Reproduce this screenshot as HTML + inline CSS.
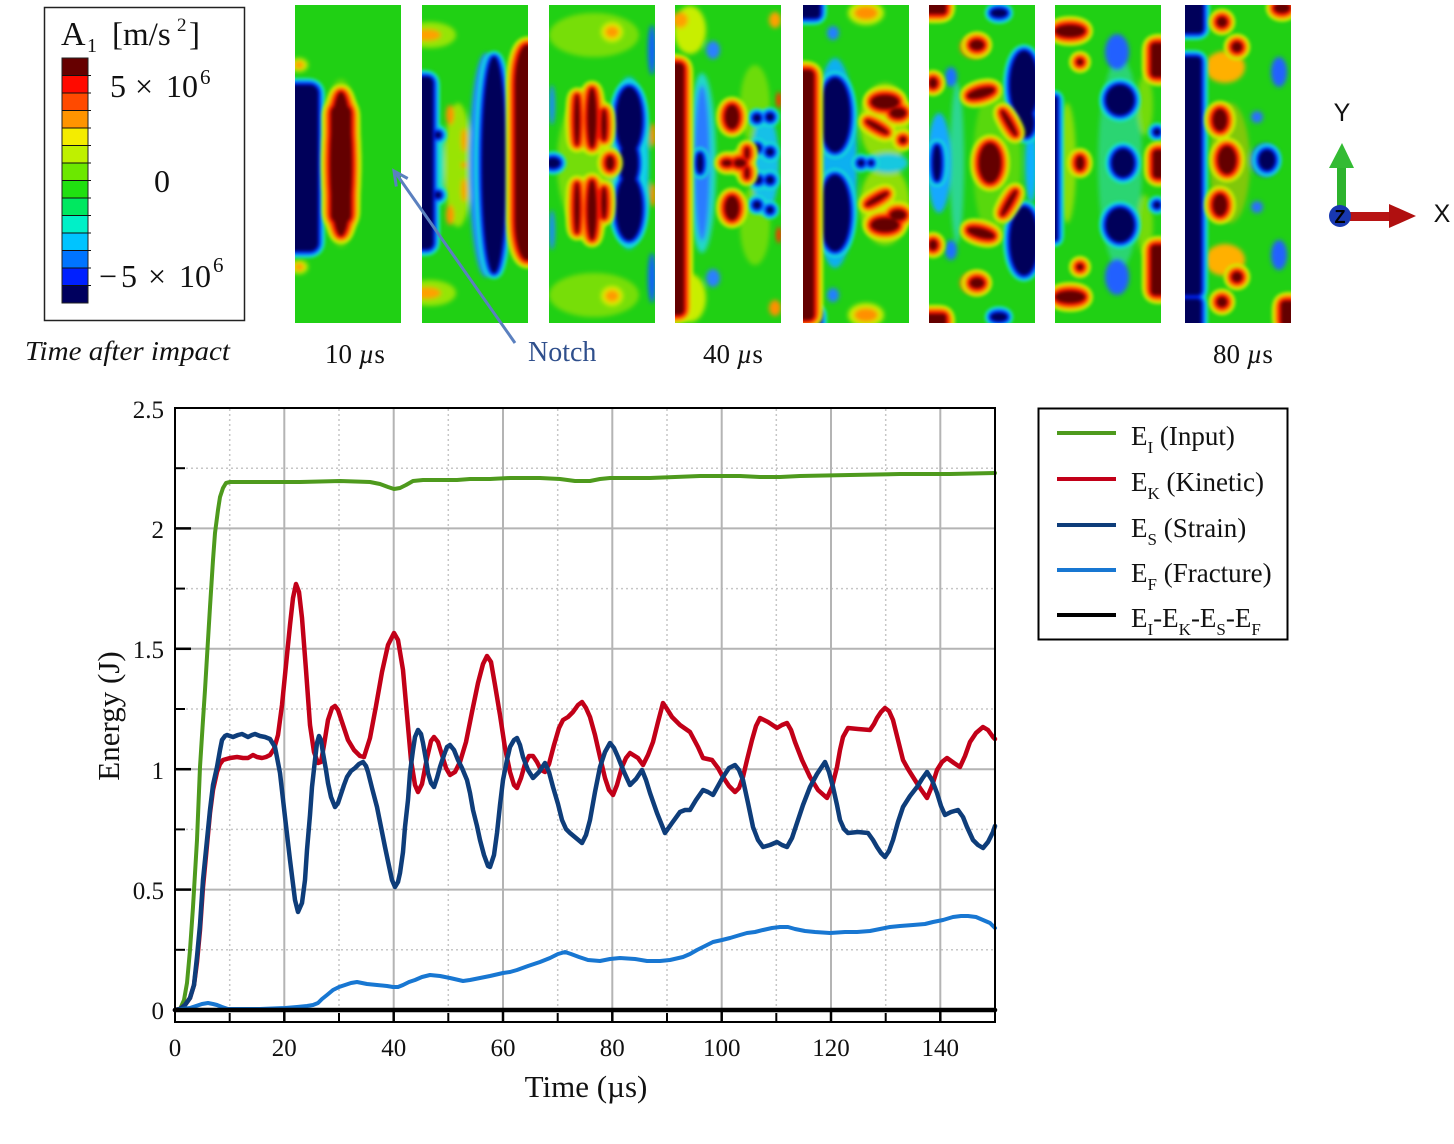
<!DOCTYPE html>
<html><head><meta charset="utf-8"><style>
html,body{margin:0;padding:0;background:#fff;}
svg{display:block;}
</style></head><body>
<svg width="1454" height="1144" viewBox="0 0 1454 1144" xmlns="http://www.w3.org/2000/svg" font-family="'Liberation Serif', serif">
<defs>
<clipPath id="cp"><rect x="0" y="0" width="106" height="318"/></clipPath>
<filter id="hot" filterUnits="userSpaceOnUse" x="-30" y="-30" width="170" height="380" color-interpolation-filters="sRGB">
 <feGaussianBlur in="SourceAlpha" stdDeviation="2" result="b1"/>
 <feComponentTransfer in="b1" result="a1"><feFuncA type="linear" slope="20" intercept="-1"/></feComponentTransfer>
 <feGaussianBlur in="a1" stdDeviation="2" result="b2"/>
 <feComponentTransfer in="b2" result="a2"><feFuncA type="linear" slope="20" intercept="-1"/></feComponentTransfer>
 <feGaussianBlur in="a2" stdDeviation="2" result="b3"/>
 <feComponentTransfer in="b3" result="a3"><feFuncA type="linear" slope="20" intercept="-1"/></feComponentTransfer>
 <feFlood flood-color="#cfee00" result="f3"/><feComposite in="f3" in2="a3" operator="in" result="c3"/>
 <feFlood flood-color="#ff9400" result="f2"/><feComposite in="f2" in2="a2" operator="in" result="c2"/>
 <feFlood flood-color="#f41400" result="f1"/><feComposite in="f1" in2="a1" operator="in" result="c1"/>
 <feFlood flood-color="#640000" result="f0"/><feComposite in="f0" in2="SourceAlpha" operator="in" result="c0"/>
 <feMerge result="m"><feMergeNode in="c3"/><feMergeNode in="c2"/><feMergeNode in="c1"/><feMergeNode in="c0"/></feMerge>
 <feGaussianBlur in="m" stdDeviation="1.5"/>
</filter>
<filter id="cold" filterUnits="userSpaceOnUse" x="-30" y="-30" width="170" height="380" color-interpolation-filters="sRGB">
 <feGaussianBlur in="SourceAlpha" stdDeviation="1.6" result="b1"/>
 <feComponentTransfer in="b1" result="a1"><feFuncA type="linear" slope="20" intercept="-1"/></feComponentTransfer>
 <feGaussianBlur in="a1" stdDeviation="1.6" result="b2"/>
 <feComponentTransfer in="b2" result="a2"><feFuncA type="linear" slope="20" intercept="-1"/></feComponentTransfer>
 <feGaussianBlur in="a2" stdDeviation="1.6" result="b3"/>
 <feComponentTransfer in="b3" result="a3"><feFuncA type="linear" slope="20" intercept="-1"/></feComponentTransfer>
 <feFlood flood-color="#18e6d2" result="f3"/><feComposite in="f3" in2="a3" operator="in" result="c3"/>
 <feFlood flood-color="#0a8cff" result="f2"/><feComposite in="f2" in2="a2" operator="in" result="c2"/>
 <feFlood flood-color="#0020e8" result="f1"/><feComposite in="f1" in2="a1" operator="in" result="c1"/>
 <feFlood flood-color="#00005a" result="f0"/><feComposite in="f0" in2="SourceAlpha" operator="in" result="c0"/>
 <feMerge result="m"><feMergeNode in="c3"/><feMergeNode in="c2"/><feMergeNode in="c1"/><feMergeNode in="c0"/></feMerge>
 <feGaussianBlur in="m" stdDeviation="1.5"/>
</filter>
<filter id="soft" filterUnits="userSpaceOnUse" x="-30" y="-30" width="170" height="380">
 <feGaussianBlur stdDeviation="2.5"/>
</filter>
</defs>

<!-- ===== Colorbar legend ===== -->
<rect x="44.5" y="7.5" width="200" height="313" fill="#fff" stroke="#222" stroke-width="1.5"/>
<text y="45" fill="#111"><tspan x="61" font-size="34">A</tspan><tspan x="87" y="52" font-size="20">1</tspan><tspan x="112" y="45" font-size="33">[m/s</tspan><tspan x="177" y="31" font-size="19">2</tspan><tspan x="189" y="45" font-size="33">]</tspan></text>
<g>
<rect x="62" y="58" width="26" height="17.5" fill="#660000"/>
<rect x="62" y="75.5" width="26" height="17.5" fill="#ff0a00"/>
<rect x="62" y="93" width="26" height="17.5" fill="#ff4a00"/>
<rect x="62" y="110.5" width="26" height="17.5" fill="#ff9400"/>
<rect x="62" y="128" width="26" height="17.5" fill="#f4ec00"/>
<rect x="62" y="145.5" width="26" height="17.5" fill="#bff000"/>
<rect x="62" y="163" width="26" height="17.5" fill="#6ce800"/>
<rect x="62" y="180.5" width="26" height="17.5" fill="#20e010"/>
<rect x="62" y="198" width="26" height="17.5" fill="#00e860"/>
<rect x="62" y="215.5" width="26" height="17.5" fill="#00f0c8"/>
<rect x="62" y="233" width="26" height="17.5" fill="#00c4ff"/>
<rect x="62" y="250.5" width="26" height="17.5" fill="#0074ff"/>
<rect x="62" y="268" width="26" height="17.5" fill="#0020ff"/>
<rect x="62" y="285.5" width="26" height="17.5" fill="#00005e"/>
<rect x="62" y="58" width="26" height="245" fill="none" stroke="#222" stroke-width="1"/>
<g stroke="#111" stroke-width="1">
<line x1="62" y1="75.5" x2="91" y2="75.5"/><line x1="62" y1="93" x2="91" y2="93"/><line x1="62" y1="110.5" x2="91" y2="110.5"/><line x1="62" y1="128" x2="91" y2="128"/><line x1="62" y1="145.5" x2="91" y2="145.5"/><line x1="62" y1="163" x2="91" y2="163"/><line x1="62" y1="180.5" x2="91" y2="180.5"/><line x1="62" y1="198" x2="91" y2="198"/><line x1="62" y1="215.5" x2="91" y2="215.5"/><line x1="62" y1="233" x2="91" y2="233"/><line x1="62" y1="250.5" x2="91" y2="250.5"/><line x1="62" y1="268" x2="91" y2="268"/><line x1="62" y1="285.5" x2="91" y2="285.5"/>
</g>
</g>
<text y="97" font-size="32" fill="#111"><tspan x="110">5</tspan><tspan x="135">×</tspan><tspan x="166">10</tspan><tspan x="200" y="84" font-size="21">6</tspan></text>
<text x="154" y="192" font-size="32" fill="#111">0</text>
<text y="287" font-size="32" fill="#111"><tspan x="99">−</tspan><tspan x="121">5</tspan><tspan x="148">×</tspan><tspan x="179">10</tspan><tspan x="213" y="272" font-size="21">6</tspan></text>
<text x="25" y="360" font-size="27" font-style="italic" fill="#111" textLength="205" lengthAdjust="spacingAndGlyphs">Time after impact</text>

<!-- ===== Contour panels ===== -->
<!-- Panel 1 -->
<g transform="translate(295,5)" clip-path="url(#cp)">
<rect x="0" y="0" width="106" height="318" fill="#20d014"/>
<g filter="url(#soft)">
<ellipse cx="4" cy="60" rx="9" ry="7" fill="#c8ee00"/>
<ellipse cx="4" cy="60" rx="5" ry="4" fill="#ff9c00"/>
<ellipse cx="4" cy="262" rx="9" ry="7" fill="#c8ee00"/>
<ellipse cx="4" cy="262" rx="5" ry="4" fill="#ff9c00"/>
<ellipse cx="46" cy="158" rx="20" ry="84" fill="#9fe400" opacity="0.5"/>
</g>
<g filter="url(#cold)"><rect x="-12" y="80" width="35" height="166" rx="8"/></g>
<g filter="url(#hot)"><ellipse cx="46" cy="159" rx="11" ry="72"/><rect x="36" y="100" width="20" height="118" rx="8"/></g>
</g>

<!-- Panel 2 -->
<g transform="translate(422,5)" clip-path="url(#cp)">
<rect x="0" y="0" width="106" height="318" fill="#20d014"/>
<g filter="url(#soft)">
<ellipse cx="8" cy="30" rx="26" ry="13" fill="#c8ee00" opacity="0.7"/>
<ellipse cx="5" cy="30" rx="14" ry="6" fill="#ffa000"/>
<ellipse cx="8" cy="288" rx="26" ry="13" fill="#c8ee00" opacity="0.7"/>
<ellipse cx="5" cy="288" rx="14" ry="6" fill="#ffa000"/>
<ellipse cx="36" cy="160" rx="14" ry="62" fill="#b8e800" opacity="0.8"/>
<ellipse cx="18" cy="160" rx="4" ry="40" fill="#20e0c0"/>
<ellipse cx="28" cy="110" rx="4" ry="10" fill="#ff9000"/>
<ellipse cx="28" cy="210" rx="4" ry="10" fill="#ff9000"/>
<ellipse cx="42" cy="135" rx="3" ry="12" fill="#ffa000"/>
<ellipse cx="42" cy="185" rx="3" ry="12" fill="#ffa000"/>
<ellipse cx="42" cy="160" rx="3" ry="3" fill="#ff9000"/>
<ellipse cx="64" cy="160" rx="17" ry="112" fill="#1a90ff"/>
</g>
<g filter="url(#cold)">
<rect x="-10" y="72" width="21" height="172" rx="6"/>
<ellipse cx="72" cy="160" rx="12" ry="108"/>
<circle cx="16" cy="130" r="3"/><circle cx="16" cy="190" r="3"/>
</g>
<g filter="url(#hot)"><rect x="93" y="40" width="25" height="215" rx="12" ry="40"/></g>
</g>

<!-- Panel 3 -->
<g transform="translate(549,5)" clip-path="url(#cp)">
<rect x="0" y="0" width="106" height="318" fill="#20d014"/>
<g filter="url(#soft)">
<ellipse cx="45" cy="30" rx="45" ry="22" fill="#b0e800" opacity="0.6"/>
<ellipse cx="45" cy="290" rx="45" ry="22" fill="#b0e800" opacity="0.6"/>
<ellipse cx="63" cy="27" rx="11" ry="10" fill="#d8ee00"/>
<ellipse cx="63" cy="27" rx="7" ry="6" fill="#ff9a00"/>
<ellipse cx="63" cy="291" rx="11" ry="10" fill="#d8ee00"/>
<ellipse cx="63" cy="291" rx="7" ry="6" fill="#ff9a00"/>
<ellipse cx="103" cy="45" rx="4" ry="25" fill="#1060ff"/>
<ellipse cx="103" cy="273" rx="4" ry="25" fill="#1060ff"/>
<ellipse cx="3" cy="100" rx="3" ry="20" fill="#1a8cff"/>
<ellipse cx="3" cy="225" rx="3" ry="20" fill="#1a8cff"/>
<ellipse cx="80" cy="158" rx="20" ry="86" fill="#10c8f0"/>
<ellipse cx="104" cy="130" rx="3" ry="12" fill="#ff9000"/>
<ellipse cx="104" cy="190" rx="3" ry="12" fill="#ff9000"/>
<ellipse cx="38" cy="158" rx="30" ry="70" fill="#c8ec00" opacity="0.5"/>
</g>
<g filter="url(#cold)">
<ellipse cx="80" cy="115" rx="13" ry="33"/>
<ellipse cx="80" cy="203" rx="13" ry="32"/>
<ellipse cx="80" cy="158" rx="9" ry="22"/>
<ellipse cx="4" cy="158" rx="7" ry="5"/>
</g>
<g filter="url(#hot)">
<ellipse cx="28" cy="115" rx="2.5" ry="26"/>
<ellipse cx="43" cy="113" rx="4.5" ry="30"/>
<ellipse cx="55" cy="120" rx="2.5" ry="16"/>
<ellipse cx="28" cy="203" rx="2.5" ry="26"/>
<ellipse cx="43" cy="205" rx="4.5" ry="30"/>
<ellipse cx="55" cy="198" rx="2.5" ry="16"/>
<ellipse cx="61" cy="158" rx="4" ry="7"/>
</g>
</g>

<!-- Panel 4 -->
<g transform="translate(675,5)" clip-path="url(#cp)">
<rect x="0" y="0" width="106" height="318" fill="#20d014"/>
<g filter="url(#soft)">
<ellipse cx="15" cy="25" rx="16" ry="24" fill="#c8ee00"/>
<ellipse cx="15" cy="293" rx="16" ry="24" fill="#c8ee00"/>
<ellipse cx="5" cy="15" rx="8" ry="8" fill="#ffa000"/>
<ellipse cx="5" cy="303" rx="8" ry="8" fill="#ffa000"/>
<ellipse cx="100" cy="15" rx="6" ry="8" fill="#ffa000"/>
<ellipse cx="100" cy="303" rx="6" ry="8" fill="#ff9000"/>
<ellipse cx="27" cy="158" rx="14" ry="90" fill="#20d8c8"/>
<ellipse cx="27" cy="158" rx="8" ry="78" fill="#2a7cff"/>
<ellipse cx="38" cy="45" rx="7" ry="9" fill="#2a80ff"/>
<ellipse cx="38" cy="273" rx="7" ry="9" fill="#2a80ff"/>
<ellipse cx="80" cy="100" rx="15" ry="40" fill="#b8ea00" opacity="0.5"/>
<ellipse cx="80" cy="220" rx="15" ry="40" fill="#b8ea00" opacity="0.5"/>
<ellipse cx="90" cy="158" rx="14" ry="50" fill="#18c0e8"/>
<ellipse cx="104" cy="95" rx="3" ry="8" fill="#ff3000"/>
<ellipse cx="104" cy="230" rx="3" ry="8" fill="#ff3000"/>
</g>
<g filter="url(#cold)">
<ellipse cx="25" cy="158" rx="3" ry="10"/>
<circle cx="82" cy="113" r="3.5"/><circle cx="95" cy="112" r="3.5"/>
<circle cx="82" cy="143" r="3.5"/><circle cx="95" cy="147" r="3.5"/>
<circle cx="83" cy="175" r="3.5"/><circle cx="95" cy="175" r="3.5"/>
<circle cx="82" cy="200" r="3.5"/><circle cx="95" cy="205" r="3"/>
</g>
<g filter="url(#hot)">
<rect x="-10" y="58" width="19" height="252" rx="5"/>
<ellipse cx="57" cy="112" rx="7" ry="12"/>
<ellipse cx="57" cy="203" rx="7" ry="12"/>
<ellipse cx="65" cy="158" rx="6" ry="4"/>
<ellipse cx="72" cy="148" rx="2" ry="6"/>
<ellipse cx="72" cy="168" rx="2" ry="6"/>
<ellipse cx="52" cy="158" rx="5" ry="3"/>
</g>
</g>

<!-- Panel 5 -->
<g transform="translate(803,5)" clip-path="url(#cp)">
<rect x="0" y="0" width="106" height="318" fill="#20d014"/>
<g filter="url(#soft)">
<ellipse cx="63" cy="8" rx="18" ry="12" fill="#c8ee00"/>
<ellipse cx="63" cy="8" rx="12" ry="7" fill="#ff9000"/>
<ellipse cx="63" cy="310" rx="18" ry="12" fill="#c8ee00"/>
<ellipse cx="63" cy="310" rx="12" ry="7" fill="#ff9000"/>
<ellipse cx="32" cy="158" rx="22" ry="105" fill="#10b0f0"/>
<ellipse cx="82" cy="118" rx="25" ry="40" fill="#d8e800" opacity="0.6"/>
<ellipse cx="82" cy="200" rx="25" ry="40" fill="#d8e800" opacity="0.6"/>
<ellipse cx="30" cy="28" rx="6" ry="7" fill="#2080ff"/>
<ellipse cx="30" cy="290" rx="6" ry="7" fill="#2080ff"/>
<ellipse cx="85" cy="158" rx="20" ry="10" fill="#18c8e0"/>
</g>
<g filter="url(#cold)">
<ellipse cx="32" cy="110" rx="15" ry="37"/>
<ellipse cx="32" cy="208" rx="15" ry="38"/>
<rect x="-5" y="-5" width="22" height="18" rx="4"/>
<rect x="-5" y="305" width="22" height="18" rx="4"/>
<circle cx="58" cy="158" r="3"/><circle cx="68" cy="158" r="2"/>
</g>
<g filter="url(#hot)">
<rect x="-10" y="65" width="21" height="250" rx="5"/>
<ellipse cx="82" cy="97" rx="14" ry="7"/>
<ellipse cx="95" cy="108" rx="8" ry="5"/>
<ellipse cx="74" cy="122" rx="13" ry="2.5" transform="rotate(30 74 122)"/>
<ellipse cx="82" cy="220" rx="14" ry="7"/>
<ellipse cx="95" cy="210" rx="8" ry="5"/>
<ellipse cx="74" cy="194" rx="13" ry="2.5" transform="rotate(-30 74 194)"/>
<circle cx="100" cy="135" r="3"/>
</g>
</g>

<!-- Panel 6 -->
<g transform="translate(929,5)" clip-path="url(#cp)">
<rect x="0" y="0" width="106" height="318" fill="#20d014"/>
<g filter="url(#soft)">
<ellipse cx="28" cy="158" rx="7" ry="80" fill="#30d8b0" opacity="0.8"/>
<ellipse cx="10" cy="158" rx="12" ry="50" fill="#18a8ff"/>
<ellipse cx="68" cy="158" rx="24" ry="80" fill="#c0e800" opacity="0.35"/>
<ellipse cx="45" cy="42" rx="14" ry="11" fill="#ff8000"/>
<ellipse cx="45" cy="278" rx="14" ry="11" fill="#ff8000"/>
<ellipse cx="22" cy="72" rx="6" ry="10" fill="#1a70ff"/>
<ellipse cx="22" cy="245" rx="6" ry="10" fill="#1a70ff"/>
<ellipse cx="102" cy="158" rx="6" ry="40" fill="#10b0ff"/>
</g>
<g filter="url(#cold)">
<ellipse cx="95" cy="80" rx="14" ry="34"/>
<ellipse cx="97" cy="118" rx="8" ry="14"/>
<ellipse cx="95" cy="236" rx="14" ry="34"/>
<ellipse cx="8" cy="158" rx="4" ry="18"/>
<ellipse cx="70" cy="8" rx="8" ry="4"/>
<ellipse cx="70" cy="312" rx="8" ry="4"/>
</g>
<g filter="url(#hot)">
<rect x="-5" y="-5" width="22" height="14" rx="3"/>
<rect x="-5" y="309" width="22" height="14" rx="3"/>
<ellipse cx="48" cy="40" rx="7" ry="5"/>
<ellipse cx="48" cy="278" rx="7" ry="5"/>
<ellipse cx="4" cy="78" rx="4" ry="5"/>
<ellipse cx="4" cy="240" rx="4" ry="5"/>
<ellipse cx="61" cy="158" rx="11" ry="20"/>
<ellipse cx="52" cy="88" rx="14" ry="4.5" transform="rotate(-15 52 88)"/>
<ellipse cx="52" cy="228" rx="14" ry="4.5" transform="rotate(15 52 228)"/>
<ellipse cx="80" cy="118" rx="2.5" ry="15" transform="rotate(-30 80 118)"/>
<ellipse cx="80" cy="198" rx="2.5" ry="15" transform="rotate(30 80 198)"/>
</g>
</g>

<!-- Panel 7 -->
<g transform="translate(1055,5)" clip-path="url(#cp)">
<rect x="0" y="0" width="106" height="318" fill="#20d014"/>
<g filter="url(#soft)">
<ellipse cx="65" cy="158" rx="22" ry="105" fill="#30d8b0" opacity="0.6"/>
<ellipse cx="12" cy="158" rx="9" ry="60" fill="#d0e800" opacity="0.6"/>
<ellipse cx="25" cy="57" rx="6" ry="6" fill="#ff6000"/>
<ellipse cx="25" cy="262" rx="6" ry="6" fill="#ff6000"/>
<ellipse cx="62" cy="47" rx="12" ry="18" fill="#2060ff"/>
<ellipse cx="62" cy="272" rx="12" ry="18" fill="#2060ff"/>
<ellipse cx="90" cy="100" rx="8" ry="30" fill="#c8e800" opacity="0.5"/>
<ellipse cx="90" cy="220" rx="8" ry="30" fill="#c8e800" opacity="0.5"/>
</g>
<g filter="url(#cold)">
<ellipse cx="65" cy="95" rx="14" ry="15"/>
<ellipse cx="65" cy="220" rx="14" ry="17"/>
<ellipse cx="68" cy="158" rx="11" ry="14"/>
<rect x="-6" y="92" width="8" height="143"/>
<circle cx="102" cy="127" r="3"/><circle cx="102" cy="200" r="3"/>
</g>
<g filter="url(#hot)">
<ellipse cx="15" cy="26" rx="15" ry="6"/>
<ellipse cx="15" cy="292" rx="15" ry="6"/>
<circle cx="25" cy="57" r="3"/><circle cx="25" cy="262" r="3"/>
<ellipse cx="25" cy="158" rx="4" ry="7"/>
<rect x="96" y="38" width="15" height="34" rx="4"/>
<rect x="98" y="145" width="12" height="28" rx="4"/>
<rect x="96" y="240" width="15" height="50" rx="4"/>
</g>
</g>

<!-- Panel 8 -->
<g transform="translate(1185,5)" clip-path="url(#cp)">
<rect x="0" y="0" width="106" height="318" fill="#20d014"/>
<g filter="url(#soft)">
<ellipse cx="40" cy="62" rx="20" ry="16" fill="#ffb000"/>
<ellipse cx="40" cy="255" rx="20" ry="16" fill="#ffb000"/>
<ellipse cx="45" cy="158" rx="20" ry="60" fill="#e0c000" opacity="0.5"/>
<ellipse cx="80" cy="155" rx="14" ry="16" fill="#1a50ff"/>
<circle cx="72" cy="112" r="6" fill="#2a70ff"/>
<circle cx="72" cy="202" r="6" fill="#2a70ff"/>
<ellipse cx="94" cy="67" rx="8" ry="15" fill="#2060ff"/>
<ellipse cx="94" cy="250" rx="8" ry="15" fill="#2060ff"/>
</g>
<g filter="url(#cold)">
<rect x="-6" y="52" width="22" height="238" rx="4"/>
<rect x="-6" y="-6" width="24" height="34" rx="4"/>
<rect x="-6" y="294" width="22" height="30" rx="4"/>
<ellipse cx="82" cy="155" rx="8" ry="10"/>
</g>
<g filter="url(#hot)">
<circle cx="37" cy="17" r="5"/>
<circle cx="52" cy="42" r="5"/>
<ellipse cx="35" cy="115" rx="7" ry="11"/>
<ellipse cx="42" cy="155" rx="9" ry="14"/>
<ellipse cx="35" cy="200" rx="7" ry="11"/>
<circle cx="52" cy="272" r="5"/>
<circle cx="37" cy="297" r="5"/>
<ellipse cx="97" cy="3" rx="8" ry="5"/>
<rect x="96" y="296" width="15" height="25" rx="4"/>
</g>
</g>

<!-- Panel labels -->
<text x="325" y="363" font-size="27" fill="#111">10 <tspan font-style="italic">µ</tspan>s</text>
<text x="528" y="361" font-size="28" fill="#2f4f8c">Notch</text>
<text x="703" y="363" font-size="27" fill="#111">40 <tspan font-style="italic">µ</tspan>s</text>
<text x="1213" y="363" font-size="27" fill="#111">80 <tspan font-style="italic">µ</tspan>s</text>

<!-- Notch arrow -->
<line x1="515" y1="343" x2="395" y2="172" stroke="#5b80bf" stroke-width="3"/>
<polyline points="407.7,178.5 394,171 396.3,186.5" fill="none" stroke="#5b80bf" stroke-width="3" stroke-linejoin="miter"/>

<!-- Triad -->
<rect x="1337" y="166" width="9" height="50" fill="#2db32d"/>
<polygon points="1329,168 1342,143 1354,168" fill="#33bb33"/>
<rect x="1350" y="212" width="41" height="9" fill="#b81414"/>
<polygon points="1389,204 1416,216 1389,228" fill="#b01010"/>
<circle cx="1340" cy="216" r="11" fill="#1838b0"/>
<text x="1340" y="223" font-size="18" font-weight="bold" font-family="'Liberation Sans', sans-serif" text-anchor="middle" fill="#000">Z</text>
<text x="1342" y="121" font-size="25" font-family="'Liberation Sans', sans-serif" text-anchor="middle" fill="#111">Y</text>
<text x="1442" y="222" font-size="25" font-family="'Liberation Sans', sans-serif" text-anchor="middle" fill="#111">X</text>

<!-- ===== Chart ===== -->
<g stroke="#c6c6c6" stroke-width="1.5" stroke-dasharray="2 3" fill="none">
<line x1="229.7" y1="409" x2="229.7" y2="1021"/><line x1="339" y1="409" x2="339" y2="1021"/><line x1="448.3" y1="409" x2="448.3" y2="1021"/><line x1="557.7" y1="409" x2="557.7" y2="1021"/><line x1="667" y1="409" x2="667" y2="1021"/><line x1="776.3" y1="409" x2="776.3" y2="1021"/><line x1="885.7" y1="409" x2="885.7" y2="1021"/>
<line x1="176" y1="949.8" x2="994" y2="949.8"/><line x1="176" y1="829.4" x2="994" y2="829.4"/><line x1="176" y1="709" x2="994" y2="709"/><line x1="176" y1="588.6" x2="994" y2="588.6"/><line x1="176" y1="468.2" x2="994" y2="468.2"/>
</g>
<g stroke="#b4b4b4" stroke-width="2" fill="none">
<line x1="284.3" y1="409" x2="284.3" y2="1021"/><line x1="393.7" y1="409" x2="393.7" y2="1021"/><line x1="503" y1="409" x2="503" y2="1021"/><line x1="612.3" y1="409" x2="612.3" y2="1021"/><line x1="721.7" y1="409" x2="721.7" y2="1021"/><line x1="831" y1="409" x2="831" y2="1021"/><line x1="940.3" y1="409" x2="940.3" y2="1021"/>
<line x1="176" y1="889.6" x2="994" y2="889.6"/><line x1="176" y1="769.2" x2="994" y2="769.2"/><line x1="176" y1="648.8" x2="994" y2="648.8"/><line x1="176" y1="528.4" x2="994" y2="528.4"/>
</g>

<g fill="none" stroke-linejoin="round" stroke-linecap="round">
<polyline stroke="#4e9a1d" stroke-width="4" points="175,1010 180,1009 184,1000 187,983 190,950 193,907 197,840 200,767 203,720 205,690 208,640 210,607 213,560 215,533 218,510 220,497 223,488 226,483 230,482 260,482 300,482 340,481 370,482 380,484 388,487 394,489 400,488 406,485 413,481 423,480 440,480 457,480 470,479 490,479 510,478 540,478 560,479 575,481 590,481 600,479 610,478 650,478 700,476 740,476 760,477 780,477 800,476 850,475 900,474 950,474 995,473"/>
<polyline stroke="#c20018" stroke-width="4.5" points="175,1010 180,1009 185,1005 190,998 194,985 197,962 200,930 203,887 207,845 210,813 213,790 217,772 220,764 223,760 230,758 237,757 243,758 248,758 253,755 257,757 262,758 266,757 270,755 274,749 278,735 282,705 286,665 290,625 293,598 296,584 299,592 302,618 306,670 310,725 314,752 318,763 321,762 324,745 328,720 332,708 335,706 338,710 343,725 348,740 354,750 360,756 364,757 370,738 376,706 382,672 388,645 394,633 398,640 403,670 407,715 411,760 415,785 418,792 422,784 427,758 431,741 434,737 438,742 442,755 446,768 450,775 455,772 460,762 466,742 472,712 478,683 483,664 487,656 491,662 495,685 500,715 505,748 510,772 514,785 517,788 521,778 525,764 529,756 533,756 537,762 541,770 545,772 549,764 554,745 559,728 563,720 568,717 573,712 578,705 582,702 586,708 590,717 595,735 600,757 605,778 609,790 613,795 617,785 622,767 626,758 630,753 638,758 643,765 648,755 653,742 658,722 663,703 667,709 672,717 680,725 690,732 698,747 703,758 712,760 718,768 723,777 729,786 735,792 739,788 743,777 747,760 752,740 756,726 760,718 768,722 777,728 782,725 787,723 791,730 795,742 802,760 810,777 818,790 827,798 832,787 837,767 840,750 843,737 848,728 858,729 870,730 874,724 877,718 881,712 885,708 889,711 893,720 898,740 903,760 908,769 913,777 920,788 927,798 932,786 937,770 942,762 947,758 954,763 960,767 965,756 970,742 976,733 983,727 988,730 993,737 995,739"/>
<polyline stroke="#0e3d7a" stroke-width="4.5" points="175,1010 180,1009 185,1005 190,998 194,985 197,957 200,925 203,880 207,840 210,810 213,785 217,767 220,750 222,740 225,736 227,735 233,737 238,735 242,734 248,737 252,735 255,734 260,736 265,737 270,739 275,747 280,773 285,817 290,860 295,900 298,912 302,903 305,880 307,850 310,815 312,787 315,760 317,743 319,736 321,740 323,753 326,770 328,783 331,797 335,807 338,803 340,797 344,785 347,777 351,771 355,768 359,764 363,762 366,766 368,772 372,788 377,807 381,827 385,847 389,866 392,880 395,887 398,882 400,873 403,852 405,827 408,800 410,773 413,750 415,737 418,730 421,734 423,743 426,760 428,773 431,783 434,787 437,778 440,767 444,755 447,747 450,745 454,750 458,760 462,768 467,780 470,793 473,810 477,826 480,840 484,855 488,866 490,867 494,855 497,833 500,805 503,780 507,760 510,747 514,740 517,738 520,745 523,757 528,770 533,778 539,772 545,763 549,772 553,787 558,804 562,820 566,829 570,833 576,838 582,843 586,835 590,820 595,792 600,767 605,752 610,743 614,748 618,757 624,772 630,785 636,779 642,770 646,780 650,793 657,813 665,833 672,823 680,812 685,810 690,810 696,800 703,790 708,792 713,795 718,786 723,777 729,768 735,765 739,770 743,780 748,803 753,827 758,840 763,847 770,845 777,842 782,845 787,847 792,838 797,823 803,805 810,787 817,774 825,762 829,772 833,787 837,805 840,820 844,829 848,833 858,832 868,833 873,840 877,847 881,853 885,857 889,851 893,840 898,822 903,807 910,796 917,787 922,779 927,772 932,780 937,793 941,806 945,815 951,812 958,810 963,817 967,827 973,840 978,845 983,848 988,842 993,832 995,826"/>
<polyline stroke="#1877d2" stroke-width="4" points="175,1010 182,1009 190,1008 196,1006 202,1004 208,1003 213,1004 217,1005 222,1007 228,1009 240,1009 260,1009 285,1008 297,1007 307,1006 313,1005 318,1003 322,999 327,995 333,990 339,987 345,985 351,983 357,982 362,983 367,984 377,985 387,986 393,987 398,987 403,985 409,982 415,980 422,977 430,975 440,976 450,978 463,981 470,980 480,978 490,976 503,973 510,972 517,970 528,966 540,962 550,958 558,954 565,952 571,954 579,957 588,960 600,961 610,959 620,958 635,959 647,961 660,961 670,960 683,957 690,954 697,950 705,946 713,942 722,940 730,938 740,935 747,933 755,932 763,930 772,928 780,927 788,927 795,929 805,931 815,932 830,933 845,932 857,932 870,931 880,929 890,927 900,926 913,925 925,924 933,922 943,920 953,917 961,916 968,916 976,917 983,920 990,923 995,928"/>
<line x1="175" y1="1010" x2="995" y2="1010" stroke="#000" stroke-width="4.5"/>
</g>

<rect x="175" y="408" width="820" height="614" fill="none" stroke="#000" stroke-width="2"/>
<g stroke="#000" stroke-width="2.5">
<line x1="175" y1="1010" x2="191" y2="1010"/><line x1="175" y1="889.6" x2="191" y2="889.6"/><line x1="175" y1="769.2" x2="191" y2="769.2"/><line x1="175" y1="648.8" x2="191" y2="648.8"/><line x1="175" y1="528.4" x2="191" y2="528.4"/>
<line x1="284.3" y1="1008" x2="284.3" y2="1022"/><line x1="393.7" y1="1008" x2="393.7" y2="1022"/><line x1="503" y1="1008" x2="503" y2="1022"/><line x1="612.3" y1="1008" x2="612.3" y2="1022"/><line x1="721.7" y1="1008" x2="721.7" y2="1022"/><line x1="831" y1="1008" x2="831" y2="1022"/><line x1="940.3" y1="1008" x2="940.3" y2="1022"/>
</g>
<g stroke="#000" stroke-width="2">
<line x1="175" y1="949.8" x2="185" y2="949.8"/><line x1="175" y1="829.4" x2="185" y2="829.4"/><line x1="175" y1="709" x2="185" y2="709"/><line x1="175" y1="588.6" x2="185" y2="588.6"/><line x1="175" y1="468.2" x2="185" y2="468.2"/>
<line x1="229.7" y1="1013" x2="229.7" y2="1022"/><line x1="339" y1="1013" x2="339" y2="1022"/><line x1="448.3" y1="1013" x2="448.3" y2="1022"/><line x1="557.7" y1="1013" x2="557.7" y2="1022"/><line x1="667" y1="1013" x2="667" y2="1022"/><line x1="776.3" y1="1013" x2="776.3" y2="1022"/><line x1="885.7" y1="1013" x2="885.7" y2="1022"/>
</g>

<g font-size="25" fill="#111" text-anchor="end">
<text x="164" y="418">2.5</text>
<text x="164" y="538">2</text>
<text x="164" y="658">1.5</text>
<text x="164" y="779">1</text>
<text x="164" y="899">0.5</text>
<text x="164" y="1019">0</text>
</g>
<g font-size="25" fill="#111" text-anchor="middle">
<text x="175" y="1056">0</text>
<text x="284.3" y="1056">20</text>
<text x="393.7" y="1056">40</text>
<text x="503" y="1056">60</text>
<text x="612.3" y="1056">80</text>
<text x="721.7" y="1056">100</text>
<text x="831" y="1056">120</text>
<text x="940.3" y="1056">140</text>
</g>
<text x="586" y="1097" font-size="31" fill="#111" text-anchor="middle">Time (µs)</text>
<text transform="translate(119,716) rotate(-90)" font-size="31" fill="#111" text-anchor="middle">Energy (J)</text>

<rect x="1038.5" y="408.5" width="249" height="231" fill="#fff" stroke="#000" stroke-width="2"/>
<g stroke-width="4">
<line x1="1057" y1="433" x2="1116" y2="433" stroke="#4e9a1d"/>
<line x1="1057" y1="479" x2="1116" y2="479" stroke="#c20018"/>
<line x1="1057" y1="525" x2="1116" y2="525" stroke="#0e3d7a"/>
<line x1="1057" y1="570" x2="1116" y2="570" stroke="#1877d2"/>
<line x1="1057" y1="615" x2="1116" y2="615" stroke="#000"/>
</g>
<g font-size="27" fill="#111">
<text x="1131" y="445">E<tspan font-size="17" dy="8">I</tspan><tspan dy="-8"> (Input)</tspan></text>
<text x="1131" y="491">E<tspan font-size="17" dy="8">K</tspan><tspan dy="-8"> (Kinetic)</tspan></text>
<text x="1131" y="537">E<tspan font-size="17" dy="8">S</tspan><tspan dy="-8"> (Strain)</tspan></text>
<text x="1131" y="582">E<tspan font-size="17" dy="8">F</tspan><tspan dy="-8"> (Fracture)</tspan></text>
<text x="1131" y="627">E<tspan font-size="17" dy="8">I</tspan><tspan dy="-8">-E</tspan><tspan font-size="17" dy="8">K</tspan><tspan dy="-8">-E</tspan><tspan font-size="17" dy="8">S</tspan><tspan dy="-8">-E</tspan><tspan font-size="17" dy="8">F</tspan></text>
</g>
</svg>
</body></html>
